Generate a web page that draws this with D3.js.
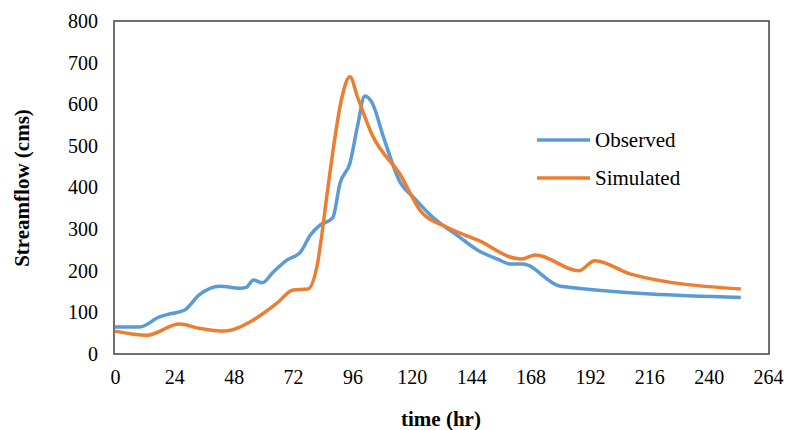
<!DOCTYPE html>
<html>
<head>
<meta charset="utf-8">
<script src="https://cdn.jsdelivr.net/npm/d3@7"></script>
<style>
  body { margin: 0; background: #fff; }
  text { font-family: "Liberation Serif", "Times New Roman", serif; fill: #000; }
</style>
</head>
<body>
<svg id="chart" width="789" height="430"></svg>
<script>
const xTicks = [0, 24, 48, 72, 96, 120, 144, 168, 192, 216, 240, 264];
const yTicks = [0, 100, 200, 300, 400, 500, 600, 700, 800];

const obsTime = [0, 10, 18, 22, 28, 34, 42.5, 50.6, 53, 56, 59.5, 64, 69.6, 75, 79, 83, 88, 91, 95, 98, 101, 104, 108.5, 115.4, 120.6, 127.5, 139.7, 146.5, 154.7, 160, 164.8, 180, 253];
const obsFlow = [65, 65, 89, 96, 105, 142, 163, 158, 160, 178, 171, 197, 226, 245, 286, 310, 327, 411, 459, 546, 620, 603, 522, 411, 377, 334, 279, 250, 228, 216, 216, 163, 136];

const simTime = [0, 13, 26, 34, 44, 56, 65.5, 72, 78, 81.6, 85.8, 88, 91.8, 95, 98, 104, 115.4, 123.5, 134, 146.5, 164, 170, 187.5, 194, 208.5, 253];
const simFlow = [55, 45, 72, 62, 55, 82, 122, 154, 156, 209, 387, 483, 618, 666, 618, 526, 430, 344, 305, 274, 228, 238, 200, 224, 192, 156];

const series = [
  { name: 'Observed', color: '#5b9bd5', t: obsTime, v: obsFlow },
  { name: 'Simulated', color: '#ed7d31', t: simTime, v: simFlow }
];

const serif = '"Liberation Serif", "Times New Roman", serif';
const svg = d3.select('#chart');
const x = d3.scaleLinear().domain([0, 264]).range([115, 768]);
const y = d3.scaleLinear().domain([0, 800]).range([354, 21]);

svg.append('rect')
  .attr('x', 114).attr('y', 21).attr('width', 655).attr('height', 333)
  .attr('fill', 'none').attr('stroke', '#404040').attr('stroke-width', 1.5);

const xAxis = svg.append('g').attr('transform', 'translate(0,354)')
  .call(d3.axisBottom(x).tickValues(xTicks).tickSize(0).tickPadding(16));
xAxis.select('.domain').remove();
xAxis.attr('font-family', serif);
xAxis.selectAll('text').style('font-size', '20px').style('font-family', serif);

const yAxis = svg.append('g').attr('transform', 'translate(114,0)')
  .call(d3.axisLeft(y).tickValues(yTicks).tickSize(0).tickPadding(16));
yAxis.select('.domain').remove();
yAxis.attr('font-family', serif);
yAxis.selectAll('text').style('font-size', '20px').style('font-family', serif);

const line = d3.line().curve(d3.curveMonotoneX)
  .x(d => x(d[0])).y(d => y(d[1]));

series.forEach(s => {
  svg.append('path')
    .datum(d3.zip(s.t, s.v))
    .attr('d', line)
    .attr('fill', 'none')
    .attr('stroke', s.color)
    .attr('stroke-width', 3.5)
    .attr('stroke-linejoin', 'round');
});

const legend = svg.append('g');
series.forEach((s, i) => {
  const ly = 140 + i * 38;
  legend.append('line')
    .attr('x1', 537).attr('x2', 590).attr('y1', ly).attr('y2', ly)
    .attr('stroke', s.color).attr('stroke-width', 3.5);
  legend.append('text')
    .attr('x', 595).attr('y', ly + 7)
    .style('font-size', '21px').text(s.name);
});

svg.append('text')
  .attr('x', 441).attr('y', 426).attr('text-anchor', 'middle')
  .style('font-size', '21px').style('font-weight', 'bold')
  .text('time (hr)');

svg.append('text')
  .attr('transform', 'translate(29,188) rotate(-90)')
  .attr('text-anchor', 'middle')
  .style('font-size', '21px').style('font-weight', 'bold')
  .text('Streamflow (cms)');
</script>
</body>
</html>
